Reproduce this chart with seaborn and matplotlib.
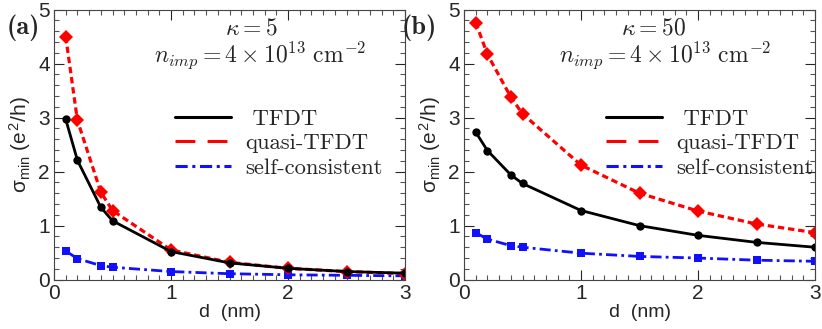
import numpy as np
import pandas as pd
import seaborn as sns
import matplotlib.pyplot as plt
from matplotlib.lines import Line2D
from matplotlib.ticker import MultipleLocator

# Data
d_nm = [0.1, 0.2, 0.4, 0.5, 1.0, 1.5, 2.0, 2.5, 3.0]

tfdt_a = [2.97, 2.21, 1.34, 1.09, 0.52, 0.31, 0.21, 0.15, 0.12]
quasi_a = [4.50, 2.95, 1.62, 1.28, 0.55, 0.32, 0.21, 0.15, 0.11]
self_a = [0.53, 0.39, 0.26, 0.23, 0.15, 0.11, 0.09, 0.08, 0.07]

tfdt_b = [2.73, 2.39, 1.94, 1.78, 1.28, 1.00, 0.82, 0.69, 0.60]
quasi_b = [4.76, 4.17, 3.38, 3.07, 2.12, 1.60, 1.27, 1.03, 0.87]
self_b = [0.87, 0.75, 0.63, 0.60, 0.49, 0.43, 0.40, 0.36, 0.34]

panel_labels = ['(a)', '(b)']
kappas = ['$\\kappa = 5$', '$\\kappa = 50$']
nimp_text = '$n_{imp} = 4 \\times 10^{13}\\ \\mathrm{cm}^{-2}$'
legend_labels = [' TFDT', 'quasi-TFDT', 'self-consistent']

sns.set_style('ticks')
plt.rcParams['font.family'] = ['Liberation Sans', 'DejaVu Sans']
plt.rcParams['mathtext.fontset'] = 'cm'

fig = plt.figure(figsize=(8.22, 3.29), dpi=100)
ax_a = fig.add_axes([0.0657, 0.150, 0.427, 0.821])
ax_b = fig.add_axes([0.5645, 0.150, 0.427, 0.821])

panels = [(ax_a, tfdt_a, quasi_a, self_a), (ax_b, tfdt_b, quasi_b, self_b)]
kappa_x = [0.561, 0.54]
nimp_x = [0.587, 0.573]
legend_x = [0.345, 0.405]

for i, (ax, tf, qt, sc) in enumerate(panels):
    df = pd.DataFrame({'d': d_nm, 'TFDT': tf, 'quasi': qt, 'self': sc})
    sns.lineplot(data=df, x='d', y='self', ax=ax, color='#1010ff', lw=2,
                 linestyle=(0, (4, 1.5, 1, 1.5)), marker='s', markersize=6,
                 markeredgewidth=0, legend=False)
    sns.lineplot(data=df, x='d', y='quasi', ax=ax, color='#ff0000', lw=2.3,
                 linestyle=(0, (2, 1.2)), marker='D', markersize=7,
                 markeredgewidth=0, legend=False)
    sns.lineplot(data=df, x='d', y='TFDT', ax=ax, color='black', lw=2,
                 linestyle='-', marker='o', markersize=6, markeredgewidth=0,
                 legend=False)

    ax.set_xlim(0, 3)
    ax.set_ylim(0, 5)
    ax.xaxis.set_major_locator(MultipleLocator(1))
    ax.xaxis.set_minor_locator(MultipleLocator(0.1))
    ax.yaxis.set_major_locator(MultipleLocator(1))
    ax.yaxis.set_minor_locator(MultipleLocator(0.2))
    ax.tick_params(which='both', direction='in', top=True, right=True, width=0.8)
    ax.tick_params(which='major', length=7, labelsize=15, pad=3)
    ax.tick_params(which='minor', length=3.5, color='#555555')
    for s in ax.spines.values():
        s.set_linewidth(0.8)
        s.set_color('#444444')

    ax.set_xlabel('d  (nm)', fontsize=14, labelpad=1)
    ax.set_ylabel('$\\mathregular{\\sigma_{min}}$ (e$^{\\mathregular{2}}$/h)',
                  fontsize=15, labelpad=3)

    ax.text(kappa_x[i], 0.908, kappas[i], transform=ax.transAxes, fontsize=17,
            ha='center', va='baseline')
    ax.text(nimp_x[i], 0.808, nimp_text, transform=ax.transAxes, fontsize=17,
            ha='center', va='baseline')

    handles = [
        Line2D([], [], color='black', lw=2.2, linestyle='-'),
        Line2D([], [], color='#ff0000', lw=2.2, linestyle=(0, (6.5, 4))),
        Line2D([], [], color='#1010ff', lw=2.2, linestyle=(0, (4, 1.5, 1, 1.5))),
    ]
    ax.legend(handles, legend_labels, loc='center left',
              bbox_to_anchor=(legend_x[i], 0.505),
              frameon=False, handlelength=2.48, handletextpad=0.62,
              labelspacing=0.2, borderaxespad=0, borderpad=0,
              prop={'family': 'cmr10', 'size': 16.3})

fig.text(0.008, 0.915, panel_labels[0], fontsize=19,
         family='cmb10', ha='left', va='center')
fig.text(0.489, 0.915, panel_labels[1], fontsize=19,
         family='cmb10', ha='left', va='center')

fig.savefig('out.png', dpi=100)
